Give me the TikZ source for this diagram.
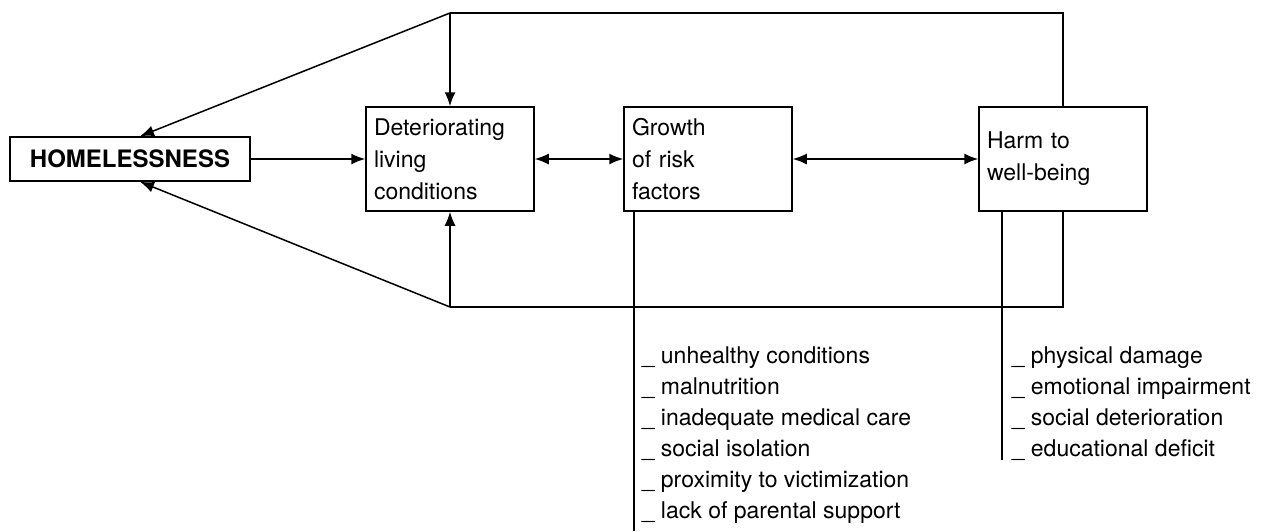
\documentclass[tikz,border=0pt]{standalone}
\usepackage{fontspec}
\setmainfont{TeX Gyre Heros}
\usetikzlibrary{arrows.meta,calc}

\begin{document}
\begin{tikzpicture}[x=0.5pt,y=-0.5pt,line width=0.75pt]
\tikzset{box/.style = {shape=rectangle,draw,minimum height=52pt,text width=76pt,inner xsep=4pt,align=left,font=\fontsize{11.5}{16}\selectfont}}
\tikzset{edge/.style = {->,> = {Latex[length=7pt,width=5.5pt]}}}
\tikzset{item/.style = {anchor=base west,inner sep=0pt,font=\fontsize{11.5}{14}\selectfont}}
\useasboundingbox (0,0) rectangle (1263,531);

\node[draw,minimum width=120pt,minimum height=22pt,font=\fontsize{12}{14}\selectfont\bfseries] (home) at (130,159) {HOMELESSNESS};
\foreach \pos/\name/\txt in {{(450,159)/decay/Deteriorating\\living\\conditions}, {(708,159)/risk/Growth\\of risk\\factors}, {(1063,159)/harm/Harm to\\well-being}}
\node[box] (\name) at \pos {\txt};

% the two loops back to homelessness
\coordinate (tl) at (450,13);
\coordinate (tr) at (1063,13);
\coordinate (bl) at (450,307);
\coordinate (br) at (1063,307);
\draw (harm.north) -- (tr) -- (tl);
\draw (harm.south) -- (br) -- (bl);
\draw[edge] (tl) -- (decay.north);
\draw[edge] (bl) -- (decay.south);
\draw[edge] (tl) -- ($(home.north)+(10,0)$);
\draw[edge] (bl) -- ($(home.south)+(10,0)$);

\draw[edge] (home) -- (decay);
\foreach \from/\to in {decay/risk, risk/harm}
\draw[edge,<->] (\from) -- (\to);

% lists under the boxes
\coordinate (riskend) at (634,531);
\coordinate (harmend) at (1002,460);
\draw (risk.south -| riskend) -- (riskend);
\draw (harm.south -| harmend) -- (harmend);

\foreach \txt [count=\i] in {unhealthy conditions, malnutrition, inadequate medical care, social isolation, proximity to victimization, lack of parental support}
\node[item] (risk\i) at (641,{332+31*\i}) {\_ \txt};
\foreach \txt [count=\i] in {physical damage, emotional impairment, social deterioration, educational deficit}
\node[item] (harm\i) at (1011,{332+31*\i}) {\_ \txt};
\end{tikzpicture}
\end{document}
